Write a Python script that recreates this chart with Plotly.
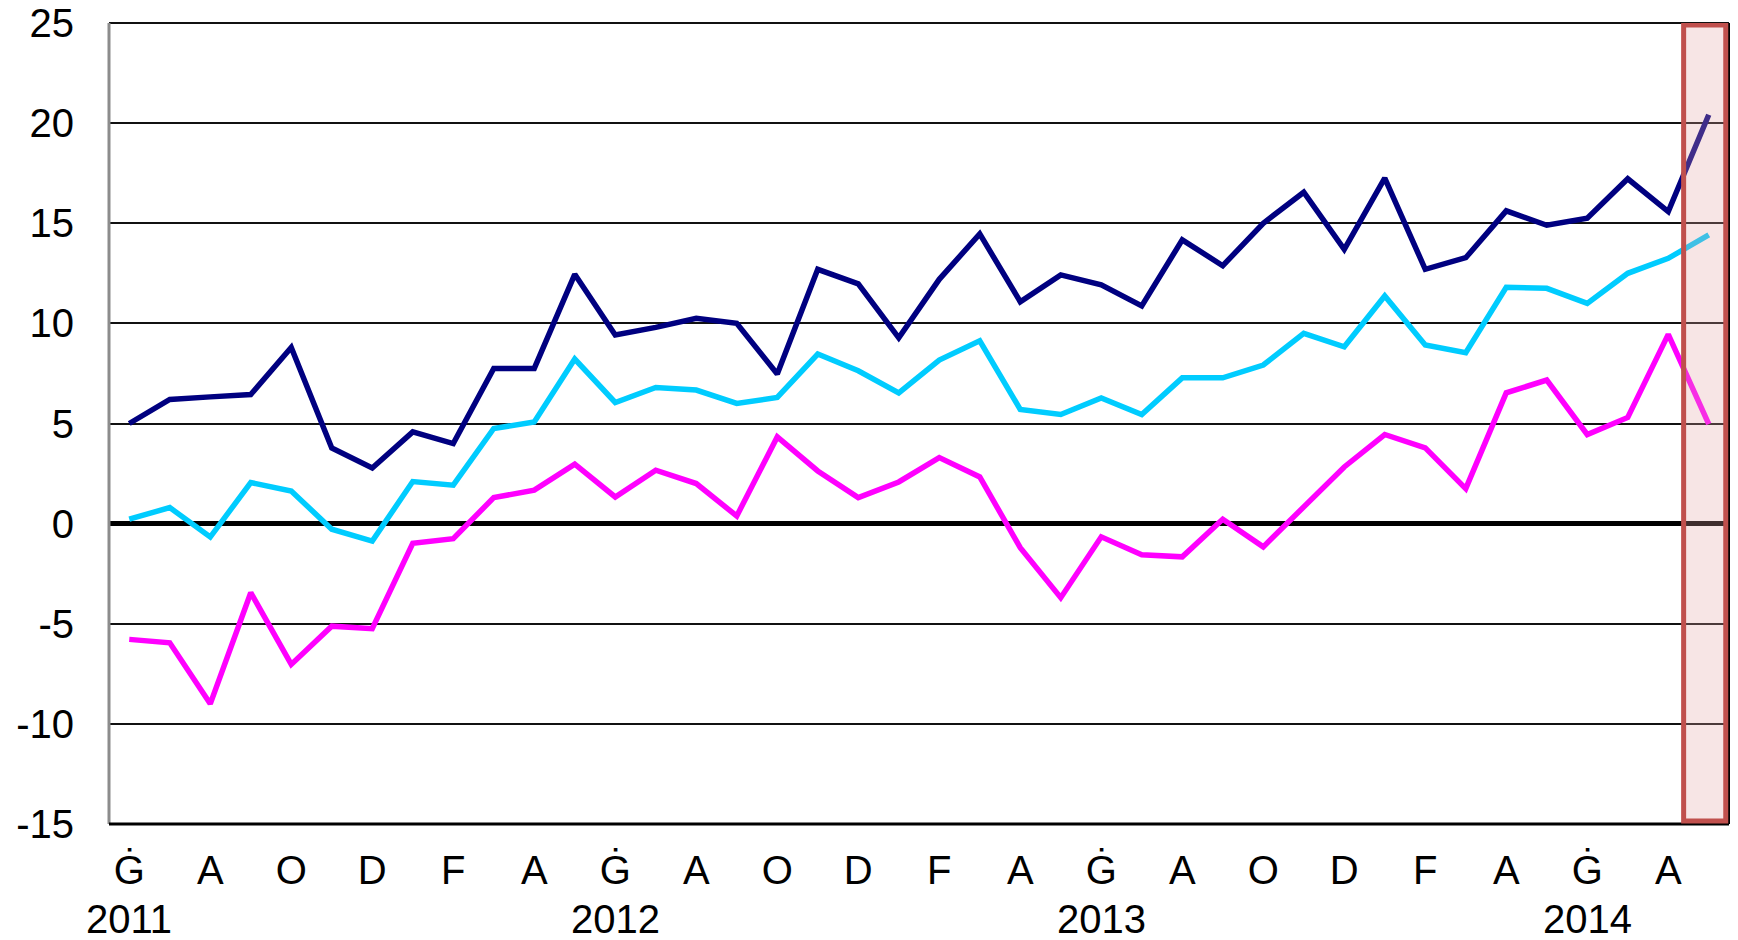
import plotly.graph_objects as go

# Monthly, June 2011 .. September 2014 (40 months)
n_points = 40

navy_values = [5.0, 6.2, 6.33, 6.45, 8.8, 3.78, 2.78, 4.58, 4.0, 7.75,
               7.75, 12.45, 9.42, 9.8, 10.25, 10.0, 7.47, 12.7, 11.97, 9.28,
               12.2, 14.47, 11.08, 12.42, 11.92, 10.87, 14.17, 12.88, 15.0, 16.55,
               13.7, 17.25, 12.7, 13.28, 15.62, 14.9, 15.25, 17.22, 15.58, 20.42]
cyan_values = [0.22, 0.8, -0.67, 2.05, 1.63, -0.28, -0.87, 2.1, 1.92, 4.75,
               5.08, 8.22, 6.05, 6.8, 6.67, 6.0, 6.3, 8.47, 7.63, 6.53,
               8.17, 9.13, 5.7, 5.45, 6.28, 5.45, 7.28, 7.28, 7.92, 9.5,
               8.83, 11.37, 8.92, 8.53, 11.8, 11.75, 11.0, 12.5, 13.25, 14.42]
magenta_values = [-5.78, -5.95, -9.0, -3.45, -7.03, -5.12, -5.25, -0.98, -0.75, 1.3,
                  1.67, 2.97, 1.33, 2.67, 2.0, 0.38, 4.33, 2.63, 1.3, 2.08,
                  3.3, 2.33, -1.2, -3.7, -0.66, -1.55, -1.66, 0.22, -1.16, 0.8,
                  2.83, 4.45, 3.78, 1.75, 6.53, 7.17, 4.45, 5.3, 9.45, 4.97]

tick_positions = list(range(0, 40, 2))
tick_labels = ["Ġ", "A", "O", "D", "F", "A",
               "Ġ", "A", "O", "D", "F", "A",
               "Ġ", "A", "O", "D", "F", "A",
               "Ġ", "A"]
year_positions = [0, 12, 24, 36]
year_labels = ["2011", "2012", "2013", "2014"]
y_ticks = [25, 20, 15, 10, 5, 0, -5, -10, -15]
y_tick_labels = ["25", "20", "15", "10", "5", "0", "-5", "-10", "-15"]

x = list(range(n_points))

fig = go.Figure()
for vals, col in [(navy_values, "#000080"), (cyan_values, "#00CCFF"), (magenta_values, "#FF00FF")]:
    fig.add_trace(go.Scatter(x=x, y=vals, mode="lines",
                             line=dict(color=col, width=5.5),
                             showlegend=False, hoverinfo="skip"))

font = dict(family="Liberation Sans, Arial, sans-serif", size=40, color="#000000")

# page body has an 8px margin, so the figure is sized to fill the rest of the window
fig.update_layout(
    width=1730, height=932,
    margin=dict(l=101, r=9, t=15, b=116),
    paper_bgcolor="white", plot_bgcolor="white",
    font=font,
    xaxis=dict(range=[-0.5, 39.5], tickmode="array", tickvals=tick_positions,
               ticktext=tick_labels, showgrid=False, zeroline=False,
               showline=False, ticks="", tickfont=font, ticklabelstandoff=19,
               automargin=False, ticklabeloverflow="allow"),
    yaxis=dict(range=[-15, 25], tickmode="array", tickvals=y_ticks,
               ticktext=y_tick_labels,
               showgrid=True, gridcolor="#111111", gridwidth=2,
               zeroline=True, zerolinecolor="#000000", zerolinewidth=5,
               showline=False, ticks="", tickfont=font, ticklabelstandoff=34,
               automargin=False, ticklabeloverflow="allow"),
)

for pos, lab in zip(year_positions, year_labels):
    fig.add_annotation(x=pos, xref="x", y=-0.118, yref="paper", text=lab,
                       showarrow=False, font=font, xanchor="center", yanchor="middle")

# frame lines
fig.add_shape(type="line", xref="paper", yref="paper", x0=0, x1=1, y0=1, y1=1,
              line=dict(color="#111111", width=2))
fig.add_shape(type="line", xref="paper", yref="paper", x0=0, x1=0, y0=0, y1=1,
              line=dict(color="#8c8c8c", width=3))
fig.add_shape(type="line", xref="paper", yref="paper", x0=1, x1=1, y0=0, y1=1,
              line=dict(color="#000000", width=2))
fig.add_shape(type="line", xref="paper", yref="paper", x0=0, x1=1, y0=0, y1=0,
              line=dict(color="#000000", width=3))

# highlighted last month
fig.add_shape(type="rect", xref="x", yref="y", x0=38.38, x1=39.42, y0=-14.85, y1=24.9,
              line=dict(color="#C0504D", width=5),
              fillcolor="rgba(225,160,160,0.28)", layer="above")

fig.write_html("out.html")
